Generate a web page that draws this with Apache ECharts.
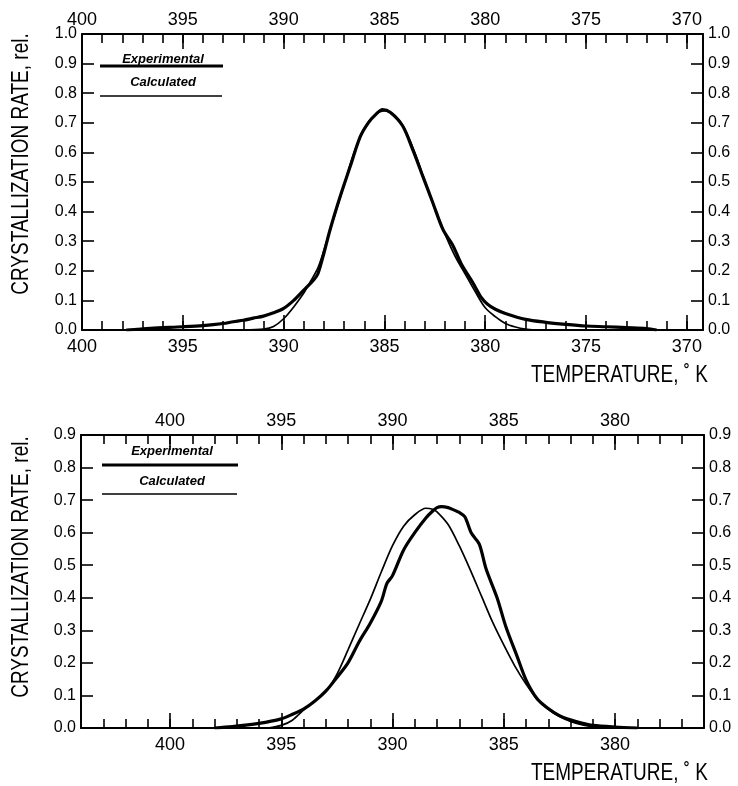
<!DOCTYPE html>
<html>
<head>
<meta charset="utf-8">
<script src="https://cdn.jsdelivr.net/npm/echarts@6/dist/echarts.min.js"></script>
<style>
html,body{margin:0;padding:0;background:#fff;}
#c{width:738px;height:786px;}
</style>
</head>
<body>
<div id="c"></div>
<script>
// ---------- DATA ----------
// Top panel: temperature (K) and relative crystallization rate
const topExpT = [397.8, 396.6, 395, 394, 393, 392.5, 392, 391.5, 391, 390.5, 390, 389.5, 389, 388.5, 388.3, 388, 387.7, 387.2, 386.7, 386.2, 385.8, 385.4, 385.1, 384.7, 384.1, 383.6, 383.1, 382.6, 382.1, 381.6, 381.2, 380.6, 380.2, 379.9, 379.5, 379, 378, 377, 376, 375, 374, 373, 372, 371.5];
const topExpV = [0.0, 0.006, 0.011, 0.015, 0.022, 0.028, 0.033, 0.04, 0.047, 0.058, 0.073, 0.10, 0.135, 0.17, 0.19, 0.26, 0.338, 0.45, 0.552, 0.653, 0.70, 0.73, 0.745, 0.735, 0.69, 0.61, 0.52, 0.43, 0.34, 0.285, 0.225, 0.158, 0.11, 0.088, 0.07, 0.056, 0.036, 0.026, 0.019, 0.0135, 0.011, 0.008, 0.005, 0.0];
const topCalT = [392, 391, 390.5, 390, 389.5, 389, 388.7, 388.3, 388, 387.5, 387, 386.5, 386, 385.5, 385, 384.5, 384, 383.5, 383, 382.5, 382, 381.5, 381, 380.5, 380, 379.5, 379, 378.5, 378, 377.5];
const topCalV = [0.0, 0.003, 0.012, 0.038, 0.078, 0.125, 0.16, 0.21, 0.27, 0.38, 0.49, 0.60, 0.68, 0.725, 0.74, 0.725, 0.68, 0.60, 0.505, 0.41, 0.325, 0.25, 0.19, 0.13, 0.075, 0.045, 0.022, 0.01, 0.003, 0.0];
// Bottom panel
const botExpT = [398.0, 397.2, 396.0, 395.0, 394.5, 394.0, 393.5, 393.0, 392.5, 392.0, 391.5, 391.0, 390.5, 390.25, 390.0, 389.5, 389.0, 388.5, 388.17, 388.0, 387.8, 387.5, 387.25, 387.0, 386.75, 386.45, 386.1, 385.8, 385.3, 384.9, 384.4, 384.0, 383.5, 383.0, 382.5, 382.0, 381.5, 381.0, 380.0, 379.0];
const botExpV = [0.0, 0.004, 0.014, 0.028, 0.042, 0.058, 0.082, 0.113, 0.155, 0.200, 0.265, 0.322, 0.390, 0.444, 0.468, 0.547, 0.600, 0.645, 0.668, 0.677, 0.680, 0.677, 0.670, 0.662, 0.649, 0.598, 0.565, 0.49, 0.40, 0.31, 0.22, 0.148, 0.09, 0.06, 0.038, 0.025, 0.015, 0.008, 0.003, 0.0];
const botCalT = [395.6, 395.0, 394.5, 394.0, 393.5, 393.0, 392.5, 392.0, 391.5, 391.0, 390.5, 390.0, 389.5, 389.0, 388.5, 388.2, 388.0, 387.5, 387.0, 386.5, 386.0, 385.5, 385.0, 384.5, 384.0, 383.5, 383.0, 382.5, 382.0, 381.5, 381.0, 380.5];
const botCalV = [0.0, 0.008, 0.024, 0.055, 0.083, 0.112, 0.165, 0.24, 0.318, 0.395, 0.48, 0.56, 0.62, 0.655, 0.675, 0.672, 0.664, 0.625, 0.56, 0.485, 0.405, 0.325, 0.255, 0.19, 0.135, 0.088, 0.057, 0.035, 0.02, 0.01, 0.004, 0.0];

// Tick labels
const topMajorTicks = [400, 395, 390, 385, 380, 375, 370];
const botMajorTicks = [400, 395, 390, 385, 380];
const topYTicks = [0.0, 0.1, 0.2, 0.3, 0.4, 0.5, 0.6, 0.7, 0.8, 0.9, 1.0];
const botYTicks = [0.0, 0.1, 0.2, 0.3, 0.4, 0.5, 0.6, 0.7, 0.8, 0.9];
const legendNames = ['Experimental', 'Calculated'];
const yTitle = 'CRYSTALLIZATION RATE, rel.';
const xTitle = 'TEMPERATURE, ˚ K';

// ---------- BUILD ----------
function range(a, b) { const r = []; for (let v = a; v <= b; v++) r.push(v); return r; }
const topMinorTicks = range(370, 400);
const botMinorTicks = range(377, 403);
function zip(t, v) { return t.map((x, i) => [x, v[i]]); }

const FONT = '"Liberation Sans", Arial, sans-serif';
const BLACK = '#000';

function xAxesFor(grid, min, max, majors, minors) {
  const base = {
    type: 'value', gridIndex: grid, min: min, max: max, inverse: true,
    splitLine: { show: false }
  };
  const out = [];
  ['bottom', 'top'].forEach(pos => {
    out.push(Object.assign({}, base, {
      position: pos,
      axisLine: { show: true, lineStyle: { color: BLACK, width: 2 } },
      axisTick: { show: true, inside: true, length: 15, customValues: majors, lineStyle: { color: BLACK, width: 1.6 } },
      axisLabel: { show: true, customValues: majors, color: BLACK, fontSize: 18, fontFamily: FONT, margin: pos === 'bottom' ? 8 : 5 }
    }));
    out.push(Object.assign({}, base, {
      position: pos,
      axisLine: { show: false },
      axisTick: { show: true, inside: true, length: 9, customValues: minors, lineStyle: { color: BLACK, width: 1.6 } },
      axisLabel: { show: false }
    }));
  });
  return out;
}
function yAxesFor(grid, max, ticks) {
  return ['left', 'right'].map(pos => ({
    type: 'value', gridIndex: grid, position: pos, min: 0, max: max,
    splitLine: { show: false },
    axisLine: { show: true, lineStyle: { color: BLACK, width: 2 } },
    axisTick: { show: true, inside: true, length: 12, customValues: ticks, lineStyle: { color: BLACK, width: 1.6 } },
    axisLabel: { show: true, customValues: ticks, color: BLACK, fontSize: 16, fontFamily: FONT,
      margin: pos === 'left' ? 5 : 5, formatter: v => v.toFixed(1) }
  }));
}

const xAxis = [].concat(
  xAxesFor(0, 369.2, 400, topMajorTicks, topMinorTicks),
  xAxesFor(1, 376, 404, botMajorTicks, botMinorTicks)
);
const yAxis = [].concat(yAxesFor(0, 1.0, topYTicks), yAxesFor(1, 0.9, botYTicks));

function lineSeries(name, x, y, data, width) {
  return {
    name: name, type: 'line', xAxisIndex: x, yAxisIndex: y, data: data,
    showSymbol: false, symbol: 'none', smooth: 0.3,
    lineStyle: { color: BLACK, width: width }, z: 5
  };
}
const series = [
  lineSeries(legendNames[0], 0, 0, zip(topExpT, topExpV), 3.2),
  lineSeries(legendNames[1], 0, 0, zip(topCalT, topCalV), 1.7),
  lineSeries(legendNames[0], 4, 2, zip(botExpT, botExpV), 3.2),
  lineSeries(legendNames[1], 4, 2, zip(botCalT, botCalV), 1.7)
];

function legendGraphics(cx, t1, l1, t2, l2, xa, xb) {
  const tStyle = { fill: BLACK, font: 'italic bold 13px ' + FONT, align: 'center', verticalAlign: 'middle' };
  return [
    { type: 'text', x: cx, y: t1, style: Object.assign({ text: legendNames[0] }, tStyle) },
    { type: 'line', shape: { x1: xa, y1: l1, x2: xb, y2: l1 }, style: { stroke: BLACK, lineWidth: 3 } },
    { type: 'text', x: cx, y: t2, style: Object.assign({ text: legendNames[1] }, tStyle) },
    { type: 'line', shape: { x1: xa, y1: l2, x2: xb - 1, y2: l2 }, style: { stroke: BLACK, lineWidth: 1.6 } }
  ];
}
function titleGraphics(yCenter, xTitleY) {
  return [
    { type: 'text', x: 21, y: yCenter, rotation: Math.PI / 2, scaleY: 1.25,
      style: { text: yTitle, fill: BLACK, font: '19px ' + FONT, align: 'center', verticalAlign: 'middle' } },
    { type: 'text', x: 708, y: xTitleY, scaleY: 1.3,
      style: { text: xTitle, fill: BLACK, font: '19px ' + FONT, align: 'right', verticalAlign: 'middle' } }
  ];
}

const option = {
  backgroundColor: '#fff',
  animation: false,
  grid: [
    { left: 82, right: 35, top: 34, height: 296 },
    { left: 81, right: 34, top: 435, height: 293 }
  ],
  xAxis: xAxis,
  yAxis: yAxis,
  series: series,
  graphic: [].concat(
    legendGraphics(163, 59, 66, 82, 96, 100, 223),
    legendGraphics(172, 451, 465, 481, 494, 102, 238),
    titleGraphics(164, 375),
    titleGraphics(567, 773)
  )
};
const chart = echarts.init(document.getElementById('c'), null, { renderer: 'canvas' });
chart.setOption(option);
</script>
</body>
</html>
